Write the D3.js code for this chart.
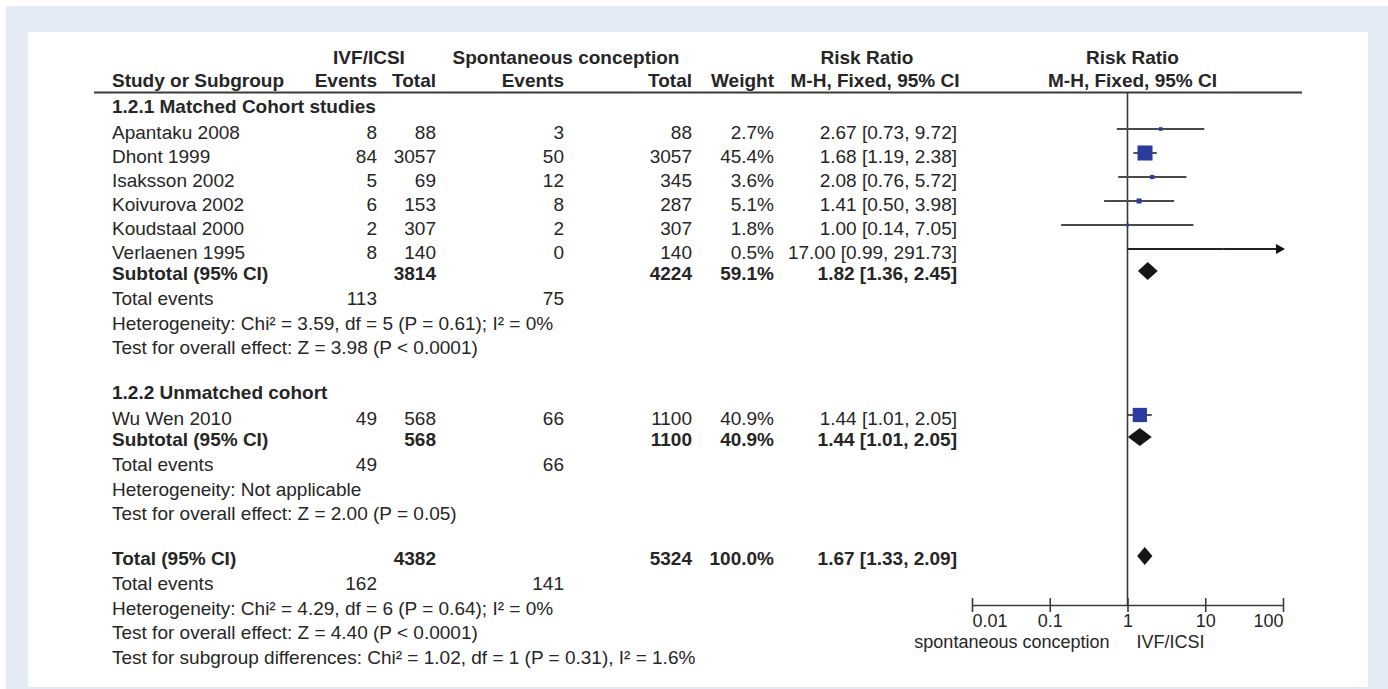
<!DOCTYPE html>
<html>
<head>
<meta charset="utf-8">
<script src="https://cdn.jsdelivr.net/npm/d3@7"></script>
<style>
  html, body { margin: 0; padding: 0; background: #ffffff; }
  svg { display: block; }
  text { font-family: "Liberation Sans", Arial, Helvetica, sans-serif; fill: #262626; }
</style>
</head>
<body>
<svg id="chart" width="1388" height="689"></svg>
<script>
// ---- Study-level data (IVF/ICSI vs spontaneous conception) ----
const studyNames  = ["Apantaku 2008", "Dhont 1999", "Isaksson 2002", "Koivurova 2002", "Koudstaal 2000", "Verlaenen 1995", "Wu Wen 2010"];
const studyGroup  = [0, 0, 0, 0, 0, 0, 1];
const ivfEvents   = [8, 84, 5, 6, 2, 8, 49];
const ivfTotal    = [88, 3057, 69, 153, 307, 140, 568];
const spEvents    = [3, 50, 12, 8, 2, 0, 66];
const spTotal     = [88, 3057, 345, 287, 307, 140, 1100];
const weights     = [2.7, 45.4, 3.6, 5.1, 1.8, 0.5, 40.9];
const riskRatio   = [2.67, 1.68, 2.08, 1.41, 1.00, 17.00, 1.44];
const ciLow       = [0.73, 1.19, 0.76, 0.50, 0.14, 0.99, 1.01];
const ciHigh      = [9.72, 2.38, 5.72, 3.98, 7.05, 291.73, 2.05];

// ---- Subgroup and overall pooled estimates ----
const groupTitles     = ["1.2.1 Matched Cohort studies", "1.2.2 Unmatched cohort"];
const pooledLabels    = ["Subtotal (95% CI)", "Subtotal (95% CI)", "Total (95% CI)"];
const pooledIvfTotal  = [3814, 568, 4382];
const pooledSpTotal   = [4224, 1100, 5324];
const pooledWeight    = [59.1, 40.9, 100.0];
const pooledRR        = [1.82, 1.44, 1.67];
const pooledLow       = [1.36, 1.01, 1.33];
const pooledHigh      = [2.45, 2.05, 2.09];
const totalEventsIvf  = [113, 49, 162];
const totalEventsSp   = [75, 66, 141];
const heterogeneity   = [
  "Heterogeneity: Chi\u00B2 = 3.59, df = 5 (P = 0.61); I\u00B2 = 0%",
  "Heterogeneity: Not applicable",
  "Heterogeneity: Chi\u00B2 = 4.29, df = 6 (P = 0.64); I\u00B2 = 0%"
];
const overallEffect   = [
  "Test for overall effect: Z = 3.98 (P < 0.0001)",
  "Test for overall effect: Z = 2.00 (P = 0.05)",
  "Test for overall effect: Z = 4.40 (P < 0.0001)"
];
const subgroupTest    = "Test for subgroup differences: Chi\u00B2 = 1.02, df = 1 (P = 0.31), I\u00B2 = 1.6%";

// ---- Axis ----
const axisTicks    = [0.01, 0.1, 1, 10, 100];
const favoursLeft  = "spontaneous conception";
const favoursRight = "IVF/ICSI";

// ---------------------------------------------------------------
const W = 1388, H = 689;
const svg = d3.select("#chart");

// framed panel
svg.append("rect").attr("x", 6).attr("y", 6).attr("width", W - 6).attr("height", H - 6).attr("fill", "#e5ebf6");
svg.append("rect").attr("x", 28).attr("y", 32).attr("width", 1340).attr("height", 655).attr("fill", "#ffffff");

const FS = 19;          // body font size
const AXIS_FS = 18;     // axis and favours labels
const col = {
  label: 112,
  ivfEv: 377,
  ivfTot: 436,
  spEv: 564,
  spTot: 692,
  weight: 774,
  ciRight: 957,
  ciTitle: 867,
  ciSub: 875
};

const x = d3.scaleLog().domain([0.01, 100]).range([972, 1283]);
const fmt2 = d3.format(".2f");
const ciText = (r, l, h) => `${fmt2(r)} [${fmt2(l)}, ${fmt2(h)}]`;

function txt(xp, yp, s, opts = {}) {
  return svg.append("text")
    .attr("x", xp).attr("y", yp)
    .attr("text-anchor", opts.anchor || "start")
    .attr("font-size", opts.size || FS)
    .attr("font-weight", opts.bold ? "bold" : "normal")
    .text(s);
}

// ---- Column headers ----
const h1 = 64, h2 = 87;
txt(369, h1, "IVF/ICSI", { anchor: "middle", bold: true });
txt(566, h1, "Spontaneous conception", { anchor: "middle", bold: true });
txt(col.ciTitle, h1, "Risk Ratio", { anchor: "middle", bold: true });
txt(x(1) + 5, h1, "Risk Ratio", { anchor: "middle", bold: true });
txt(col.label, h2, "Study or Subgroup", { bold: true });
txt(col.ivfEv, h2, "Events", { anchor: "end", bold: true });
txt(col.ivfTot, h2, "Total", { anchor: "end", bold: true });
txt(col.spEv, h2, "Events", { anchor: "end", bold: true });
txt(col.spTot, h2, "Total", { anchor: "end", bold: true });
txt(col.weight, h2, "Weight", { anchor: "end", bold: true });
txt(col.ciSub, h2, "M-H, Fixed, 95% CI", { anchor: "middle", bold: true });
txt(x(1) + 5, h2, "M-H, Fixed, 95% CI", { anchor: "middle", bold: true });

svg.append("line").attr("x1", 94).attr("x2", 1302).attr("y1", 92.5).attr("y2", 92.5)
  .attr("stroke", "#3a3a3a").attr("stroke-width", 2);

// ---- Row layout (text baselines) ----
const STEP = 24.5;
const layout = [];           // {type, index, y}
let y = 113;
groupTitles.forEach((g, gi) => {
  layout.push({ type: "group", index: gi, y });
  y += 26;
  const members = studyNames.map((_, i) => i).filter(i => studyGroup[i] === gi);
  members.forEach((i, k) => {
    layout.push({ type: "study", index: i, y });
    y += (k === members.length - 1) ? 21 : 24;
  });
  layout.push({ type: "pooled", index: gi, y });
  y += 25;
  layout.push({ type: "events", index: gi, y }); y += STEP;
  layout.push({ type: "het", index: gi, y }); y += STEP;
  layout.push({ type: "effect", index: gi, y }); y += 45;
});
layout.push({ type: "pooled", index: 2, y }); y += 25;
layout.push({ type: "events", index: 2, y }); y += STEP;
layout.push({ type: "het", index: 2, y }); y += STEP;
layout.push({ type: "effect", index: 2, y }); y += STEP;
layout.push({ type: "subgroup", index: 0, y });

const markOffset = 10;       // vertical centre of marks above the baseline
const axisY = 605;

// reference line at RR = 1
svg.append("line").attr("x1", x(1)).attr("x2", x(1)).attr("y1", 93).attr("y2", axisY)
  .attr("stroke", "#3a3a3a").attr("stroke-width", 1.6);

layout.forEach(r => {
  const i = r.index;
  if (r.type === "group") {
    txt(col.label, r.y, groupTitles[i], { bold: true });
  } else if (r.type === "study") {
    txt(col.label, r.y, studyNames[i]);
    txt(col.ivfEv, r.y, ivfEvents[i], { anchor: "end" });
    txt(col.ivfTot, r.y, ivfTotal[i], { anchor: "end" });
    txt(col.spEv, r.y, spEvents[i], { anchor: "end" });
    txt(col.spTot, r.y, spTotal[i], { anchor: "end" });
    txt(col.weight, r.y, weights[i].toFixed(1) + "%", { anchor: "end" });
    txt(col.ciRight, r.y, ciText(riskRatio[i], ciLow[i], ciHigh[i]), { anchor: "end" });

    const yc = r.y - markOffset;
    const [dmin, dmax] = x.domain();
    const lo = Math.max(ciLow[i], dmin), hi = Math.min(ciHigh[i], dmax);
    const clippedHigh = ciHigh[i] > dmax;
    const xEnd = clippedHigh ? x(dmax) - 4 : x(hi);
    svg.append("line").attr("x1", x(lo)).attr("x2", xEnd).attr("y1", yc).attr("y2", yc)
      .attr("stroke", clippedHigh ? "#222" : "#4a4a4a").attr("stroke-width", 1.9);
    if (clippedHigh) {
      const tip = x(dmax) + 2;
      svg.append("path")
        .attr("d", `M${tip},${yc} L${tip - 9},${yc - 5} L${tip - 9},${yc + 5} Z`)
        .attr("fill", "#111");
    }
    const side = 2.23 * Math.sqrt(weights[i]);
    svg.append("rect")
      .attr("x", x(riskRatio[i]) - side / 2).attr("y", yc - side / 2)
      .attr("width", side).attr("height", side)
      .attr("fill", "#2b3c9e");
  } else if (r.type === "pooled") {
    txt(col.label, r.y, pooledLabels[i], { bold: true });
    txt(col.ivfTot, r.y, pooledIvfTotal[i], { anchor: "end", bold: true });
    txt(col.spTot, r.y, pooledSpTotal[i], { anchor: "end", bold: true });
    txt(col.weight, r.y, pooledWeight[i].toFixed(1) + "%", { anchor: "end", bold: true });
    txt(col.ciRight, r.y, ciText(pooledRR[i], pooledLow[i], pooledHigh[i]), { anchor: "end", bold: true });
    const yc = r.y - markOffset + 1;
    const hh = 9;
    svg.append("path")
      .attr("d", `M${x(pooledLow[i])},${yc} L${x(pooledRR[i])},${yc - hh} L${x(pooledHigh[i])},${yc} L${x(pooledRR[i])},${yc + hh} Z`)
      .attr("fill", "#161616");
  } else if (r.type === "events") {
    txt(col.label, r.y, "Total events");
    txt(col.ivfEv, r.y, totalEventsIvf[i], { anchor: "end" });
    txt(col.spEv, r.y, totalEventsSp[i], { anchor: "end" });
  } else if (r.type === "het") {
    txt(col.label, r.y, heterogeneity[i]);
  } else if (r.type === "effect") {
    txt(col.label, r.y, overallEffect[i]);
  } else if (r.type === "subgroup") {
    txt(col.label, r.y, subgroupTest);
  }
});

// ---- Log axis ----
const axis = d3.axisBottom(x).tickValues(axisTicks).tickSize(0).tickFormat(d => String(d));
const gAxis = svg.append("g").attr("transform", `translate(0,${axisY})`).call(axis);
gAxis.select(".domain").attr("stroke", "#3a3a3a").attr("stroke-width", 1.6);
gAxis.selectAll(".tick line").remove();
gAxis.selectAll(".tick").append("line")
  .attr("y1", -7).attr("y2", 7).attr("stroke", "#3a3a3a").attr("stroke-width", 1.6);
gAxis.selectAll(".tick text")
  .attr("y", 0).attr("dy", null)
  .attr("transform", "translate(0,22)")
  .attr("font-size", AXIS_FS)
  .attr("font-family", "'Liberation Sans', Arial, sans-serif")
  .attr("fill", "#262626")
  .attr("text-anchor", (d, k) => k === 0 ? "start" : (k === axisTicks.length - 1 ? "end" : "middle"));

txt(x(1) - 18, axisY + 43, favoursLeft, { anchor: "end", size: AXIS_FS });
txt(x(1) + 9, axisY + 43, favoursRight, { anchor: "start", size: AXIS_FS });
</script>
</body>
</html>
